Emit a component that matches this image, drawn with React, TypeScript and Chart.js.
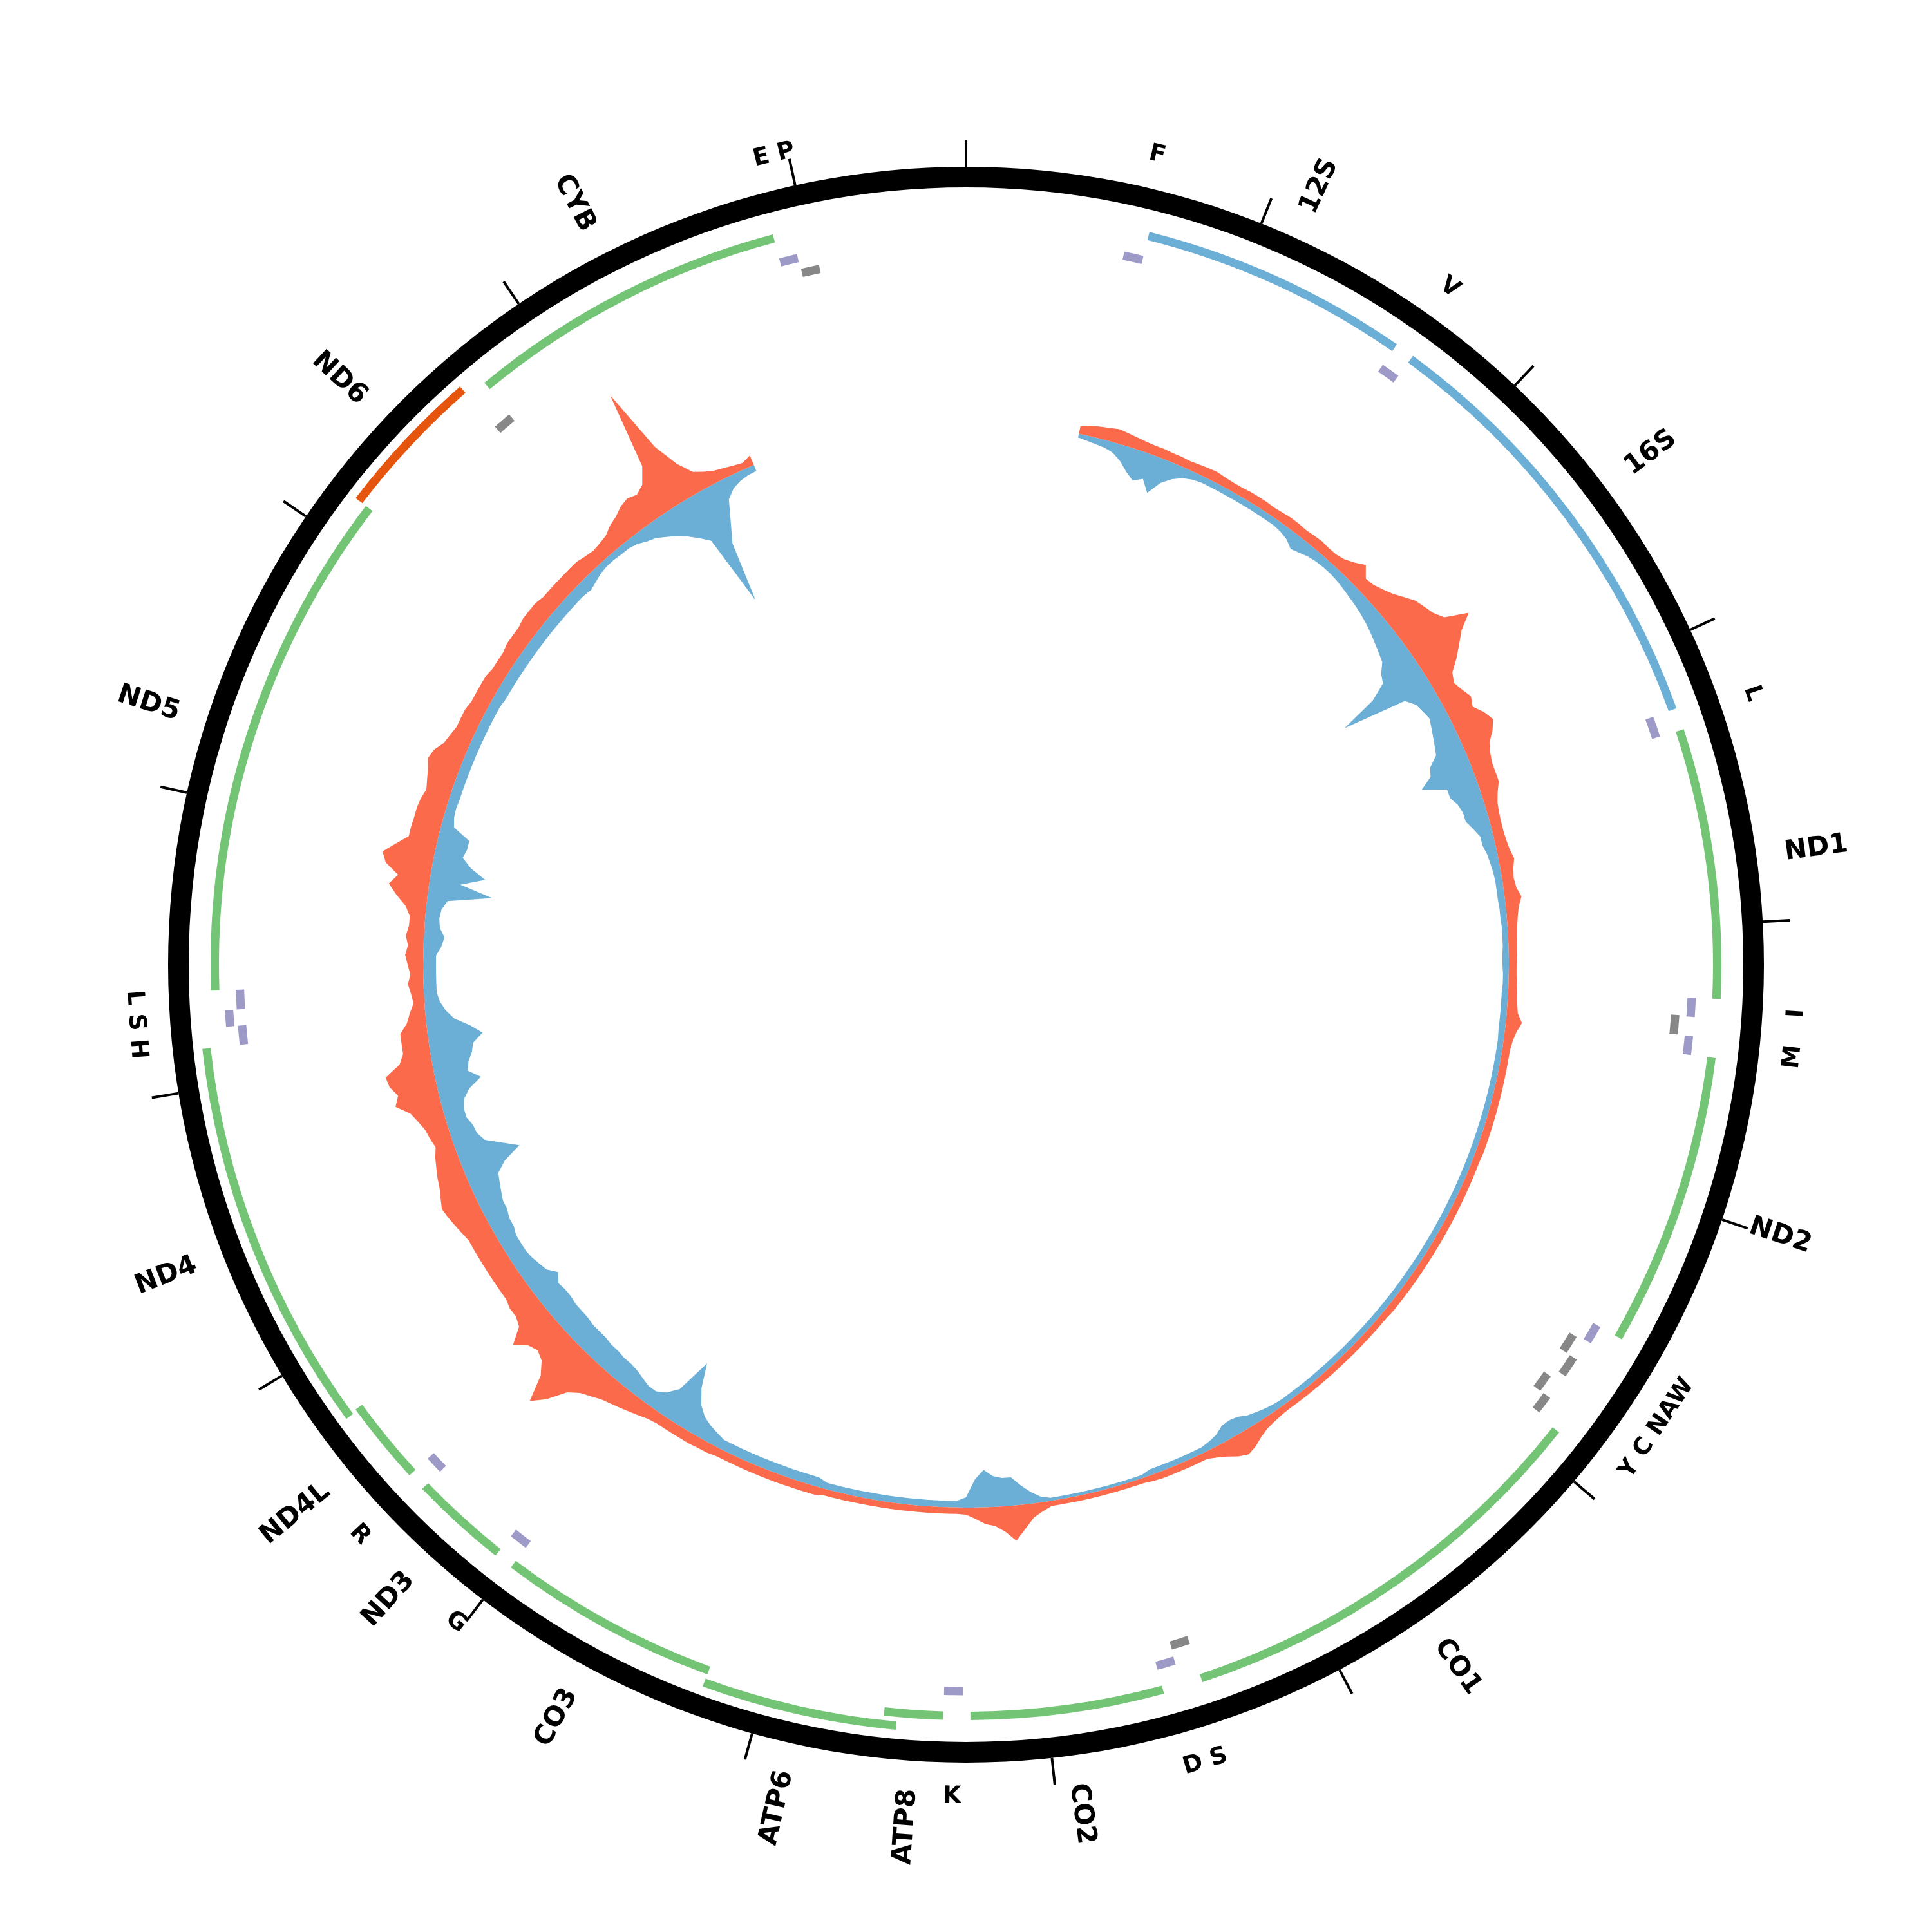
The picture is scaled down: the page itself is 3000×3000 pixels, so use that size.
import React, { useEffect, useRef } from 'react';
import { Chart, registerables } from 'chart.js';

Chart.register(...registerables);

// ---------------- data ----------------
const GENOME_LENGTH = 16569;
const TICK_STEP = 1000;

const geneNames = ['12S', '16S', 'ND1', 'ND2', 'CO1', 'CO2', 'ATP8', 'ATP6', 'CO3', 'ND3', 'ND4L', 'ND4', 'ND5', 'ND6', 'CYB'];
const geneStarts = [648, 1671, 3307, 4470, 5904, 7586, 8366, 8527, 9207, 10059, 10470, 10760, 12337, 14149, 14747];
const geneEnds = [1601, 3229, 4262, 5511, 7445, 8269, 8572, 9207, 9990, 10404, 10766, 12137, 14148, 14673, 15887];
const geneTypes = ['rRNA', 'rRNA', 'CDS', 'CDS', 'CDS', 'CDS', 'CDS', 'CDS', 'CDS', 'CDS', 'CDS', 'CDS', 'CDS', 'CDS', 'CDS'];
const geneStrands = [1, 1, 1, 1, 1, 1, 1, 1, 1, 1, 1, 1, 1, -1, 1];

const trnaNames = ['F', 'V', 'L', 'I', 'Q', 'M', 'W', 'A', 'N', 'C', 'Y', 'S', 'D', 'K', 'G', 'R', 'H', 'S', 'L', 'E', 'T', 'P'];
const trnaStarts = [577, 1602, 3230, 4263, 4329, 4402, 5512, 5587, 5657, 5761, 5826, 7446, 7518, 8295, 9991, 10405, 12138, 12207, 12266, 14674, 15888, 15956];
const trnaEnds = [647, 1670, 3304, 4331, 4400, 4469, 5579, 5655, 5729, 5826, 5891, 7514, 7585, 8364, 10058, 10469, 12206, 12265, 12336, 14742, 15953, 16023];
const trnaStrands = [1, 1, 1, 1, -1, 1, 1, -1, -1, -1, -1, -1, 1, 1, 1, 1, 1, 1, 1, -1, 1, -1];

const trnaLabelTexts = ['F', 'V', 'L', 'I', 'M', 'Y C NAW', 'D S', 'K', 'G', 'R', 'L S H', 'E P'];
const trnaLabelStarts = [577, 1602, 3230, 4263, 4402, 5512, 7446, 8295, 9991, 10405, 12138, 15888];
const trnaLabelEnds = [647, 1670, 3304, 4331, 4469, 5891, 7585, 8364, 10058, 10469, 12336, 16023];

// coverage, one value per degree bin starting at bin 12 (outward = forward, inward = reverse)
const COVERAGE_BINS = 360;
const COVERAGE_FIRST_BIN = 12;
const forwardCoverage = [
  12, 16, 18, 20, 22, 20, 18, 16, 15, 15,
  14, 14, 13, 14, 15, 16, 14, 13, 13, 14,
  14, 14, 13, 14, 15, 15, 14, 15, 16, 15,
  15, 18, 25, 35, 20, 22, 28, 35, 45, 55,
  60, 65, 75, 110, 85, 70, 55, 38, 32, 38,
  45, 40, 52, 60, 52, 40, 35, 32, 32, 32,
  25, 20, 18, 17, 17, 18, 20, 24, 20, 18,
  20, 26, 20, 17, 15, 14, 13, 13, 12, 12,
  13, 14, 15, 17, 25, 18, 14, 12, 12, 12,
  12, 12, 12, 12, 12, 12, 12, 12, 12, 11,
  11, 11, 11, 11, 11, 11, 11, 11, 11, 11,
  11, 11, 11, 11, 11, 11, 11, 11, 10, 10,
  10, 10, 10, 10, 10, 10, 10, 10, 10, 10,
  10, 10, 10, 11, 13, 16, 22, 30, 35, 30,
  22, 16, 11, 11, 11, 11, 11, 11, 10, 8,
  8, 8, 8, 8, 8, 8, 8, 8, 8, 8,
  14, 22, 38, 55, 40, 30, 26, 18, 11, 10,
  10, 10, 10, 10, 10, 10, 10, 10, 10, 10,
  10, 10, 10, 10, 13, 13, 13, 13, 13, 13,
  13, 13, 13, 13, 13, 13, 15, 15, 16, 16,
  16, 16, 16, 18, 22, 26, 30, 34, 38, 45,
  52, 65, 95, 115, 75, 58, 52, 58, 75, 50,
  44, 44, 40, 40, 40, 40, 40, 40, 40, 40,
  44, 48, 52, 55, 50, 45, 42, 38, 34, 28,
  32, 35, 42, 50, 70, 62, 72, 75, 50, 42,
  42, 42, 30, 24, 17, 20, 24, 20, 24, 28,
  24, 28, 24, 24, 32, 48, 62, 50, 72, 80,
  62, 45, 45, 44, 44, 42, 38, 42, 46, 52,
  48, 38, 34, 30, 30, 30, 27, 27, 27, 27,
  24, 24, 24, 27, 27, 27, 30, 30, 30, 27,
  27, 27, 27, 27, 27, 24, 22, 24, 27, 35,
  40, 48, 52, 48, 56, 80, 200, 95, 55, 32,
  24, 18, 15, 12, 10, 16,
];
const reverseCoverage = [
  6, 8, 10, 12, 16, 25, 38, 48, 40, 58,
  36, 24, 16, 12, 10, 10, 10, 10, 10, 10,
  10, 10, 10, 10, 12, 16, 24, 20, 16, 14,
  13, 13, 14, 16, 18, 20, 22, 25, 28, 32,
  36, 40, 44, 56, 62, 90, 150, 48, 36, 32,
  28, 32, 36, 40, 44, 60, 65, 85, 48, 48,
  40, 36, 36, 28, 20, 20, 16, 14, 12, 11,
  11, 11, 10, 10, 9, 9, 9, 10, 10, 9,
  9, 10, 10, 10, 10, 10, 9, 9, 9, 9,
  9, 9, 9, 9, 9, 9, 9, 9, 9, 9,
  9, 9, 9, 9, 9, 9, 9, 9, 9, 9,
  9, 9, 9, 9, 9, 9, 9, 9, 9, 9,
  9, 9, 9, 9, 9, 9, 9, 9, 9, 9,
  9, 9, 9, 10, 12, 15, 18, 24, 26, 24,
  16, 12, 9, 9, 9, 9, 9, 9, 9, 5,
  5, 5, 5, 5, 5, 5, 5, 5, 5, 5,
  9, 18, 30, 44, 44, 48, 58, 44, 16, 10,
  10, 10, 10, 10, 10, 10, 10, 10, 10, 10,
  10, 10, 10, 10, 15, 15, 15, 15, 15, 15,
  15, 15, 15, 15, 15, 15, 20, 25, 32, 45,
  68, 105, 48, 32, 24, 24, 28, 32, 34, 34,
  36, 36, 38, 38, 38, 40, 40, 40, 42, 42,
  40, 50, 38, 34, 30, 28, 28, 28, 32, 32,
  36, 36, 40, 44, 48, 65, 95, 72, 48, 40,
  38, 32, 32, 36, 48, 70, 52, 56, 64, 68,
  85, 68, 44, 32, 24, 20, 20, 20, 20, 20,
  28, 32, 24, 22, 24, 32, 100, 48, 85, 60,
  44, 48, 48, 20, 16, 15, 16, 16, 16, 16,
  16, 16, 16, 16, 16, 16, 16, 16, 18, 18,
  18, 18, 18, 18, 18, 18, 18, 18, 18, 18,
  18, 18, 18, 20, 16, 12, 10, 10, 11, 11,
  14, 20, 24, 32, 40, 50, 62, 75, 190, 95,
  65, 32, 20, 14, 11, 10,
];

// ---------------- layout & style ----------------
const CENTER_X = 1500;
const CENTER_Y = 1498;
const R_TICK_OUT = 1281;
const R_LABEL_RADIAL = 1283;
const R_LABEL_TANGENTIAL = 1292;
const BASELINE_R = 843;
const TICK_HALF_BP = 4.2;
const STACK_GAP_BP = 2;

const TRANSPARENT = 'rgba(0,0,0,0)';
const COLOR_CDS_PLUS = '#74c476';
const COLOR_CDS_MINUS = '#e6550d';
const COLOR_RRNA = '#6baed6';
const COLOR_TRNA_PLUS = '#9e9ac8';
const COLOR_TRNA_MINUS = '#878787';
const COLOR_FWD = '#fb6a4a';
const COLOR_REV = '#6baed6';
const GENE_FONT = 'bold 42px "DejaVu Sans"';
const TRNA_FONT = 'bold 37px "DejaVu Sans"';

// ---------------- helpers ----------------
function assignLevels(starts: number[], ends: number[]) {
  const levelEnds: number[] = [];
  return starts.map((s, i) => {
    let lv = levelEnds.findIndex((e) => s > e + STACK_GAP_BP);
    if (lv < 0) {
      lv = levelEnds.length;
      levelEnds.push(ends[i]);
    } else {
      levelEnds[lv] = ends[i];
    }
    return lv;
  });
}

function buildRing(starts: number[], ends: number[], colors: string[], texts: string[]) {
  const data: number[] = [];
  const bg: string[] = [];
  const labels: string[] = [];
  let cursor = 0;
  starts.forEach((st, i) => {
    const s = st - 1;
    const e = ends[i];
    if (s > cursor) {
      data.push(s - cursor);
      bg.push(TRANSPARENT);
      labels.push('');
    }
    data.push(e - Math.max(s, cursor));
    bg.push(colors[i]);
    labels.push(texts[i]);
    cursor = e;
  });
  if (cursor < GENOME_LENGTH) {
    data.push(GENOME_LENGTH - cursor);
    bg.push(TRANSPARENT);
    labels.push('');
  }
  return { data, bg, labels };
}

function ringDataset(ring: { data: number[]; bg: string[]; labels: string[] }, weight: number, labelMode?: string) {
  return {
    data: ring.data,
    backgroundColor: ring.bg,
    borderWidth: 0,
    weight,
    segmentLabels: labelMode ? ring.labels : undefined,
    labelMode,
  };
}

function spacer(weight: number) {
  return { data: [GENOME_LENGTH], backgroundColor: [TRANSPARENT], borderWidth: 0, weight };
}

function geneColor(i: number) {
  if (geneTypes[i] === 'rRNA') return COLOR_RRNA;
  return geneStrands[i] > 0 ? COLOR_CDS_PLUS : COLOR_CDS_MINUS;
}

function pick<T>(arr: T[], idx: number[]) {
  return idx.map((i) => arr[i]);
}

function levelRing(
  idx: number[],
  levels: number[],
  level: number,
  starts: number[],
  ends: number[],
  colorFn: (i: number) => string,
  texts: string[],
) {
  const sel = idx.filter((i) => levels[idx.indexOf(i)] === level);
  return buildRing(pick(starts, sel), pick(ends, sel), sel.map(colorFn), pick(texts, sel));
}

const circularLabelPlugin = {
  id: 'circularLabels',
  afterDatasetsDraw(chart: any) {
    const ctx = chart.ctx;
    chart.data.datasets.forEach((ds: any, di: number) => {
      if (!ds.segmentLabels) return;
      const meta = chart.getDatasetMeta(di);
      meta.data.forEach((arc: any, i: number) => {
        const text = ds.segmentLabels[i];
        if (!text) return;
        const { x, y, startAngle, endAngle } = arc.getProps(['x', 'y', 'startAngle', 'endAngle'], true);
        const a = (startAngle + endAngle) / 2;
        let theta = (a + Math.PI / 2) % (2 * Math.PI);
        if (theta < 0) theta += 2 * Math.PI;
        ctx.save();
        ctx.fillStyle = '#000';
        ctx.textBaseline = 'middle';
        if (ds.labelMode === 'radial') {
          ctx.translate(x + R_LABEL_RADIAL * Math.cos(a), y + R_LABEL_RADIAL * Math.sin(a));
          const flip = theta > Math.PI;
          ctx.rotate(flip ? a + Math.PI : a);
          ctx.textAlign = flip ? 'right' : 'left';
          ctx.font = GENE_FONT;
        } else {
          ctx.translate(x + R_LABEL_TANGENTIAL * Math.cos(a), y + R_LABEL_TANGENTIAL * Math.sin(a));
          const flip = theta > Math.PI / 2 && theta < (3 * Math.PI) / 2;
          ctx.rotate(flip ? a - Math.PI / 2 : a + Math.PI / 2);
          ctx.textAlign = 'center';
          ctx.font = TRNA_FONT;
        }
        ctx.fillText(text, 0, 0);
        ctx.restore();
      });
    });
  },
};

function tickRing() {
  const data: number[] = [];
  const bg: string[] = [];
  let cursor = 0;
  for (let pos = 0; pos < GENOME_LENGTH; pos += TICK_STEP) {
    const s = Math.max(pos - TICK_HALF_BP, 0);
    if (s > cursor) {
      data.push(s - cursor);
      bg.push(TRANSPARENT);
    }
    data.push(pos + TICK_HALF_BP - s);
    bg.push('#000');
    cursor = pos + TICK_HALF_BP;
  }
  data.push(GENOME_LENGTH - TICK_HALF_BP - cursor);
  bg.push(TRANSPARENT);
  data.push(TICK_HALF_BP);
  bg.push('#000');
  return { data, bg, labels: [] as string[] };
}

function baseOptions() {
  return {
    animation: false as const,
    responsive: false,
    maintainAspectRatio: false,
    events: [] as any[],
    plugins: { legend: { display: false }, tooltip: { enabled: false } },
  };
}

// ---------------- chart configs ----------------
function outerConfig(): any {
  const gIdx = geneNames.map((_, i) => i);
  const gLevels = assignLevels(geneStarts, geneEnds);
  const geneL1 = levelRing(gIdx, gLevels, 0, geneStarts, geneEnds, geneColor, geneNames);
  const geneL2 = levelRing(gIdx, gLevels, 1, geneStarts, geneEnds, geneColor, geneNames);

  const pIdx = trnaNames.map((_, i) => i).filter((i) => trnaStrands[i] > 0);
  const pLevels = assignLevels(pick(trnaStarts, pIdx), pick(trnaEnds, pIdx));
  const pL1 = levelRing(pIdx, pLevels, 0, trnaStarts, trnaEnds, () => COLOR_TRNA_PLUS, trnaNames);
  const pL2 = levelRing(pIdx, pLevels, 1, trnaStarts, trnaEnds, () => COLOR_TRNA_PLUS, trnaNames);

  const labelRing = buildRing(trnaLabelStarts, trnaLabelEnds, trnaLabelTexts.map(() => TRANSPARENT), trnaLabelTexts);

  const rings = [
    ringDataset(labelRing, 0, 'tangential'),
    ringDataset(tickRing(), 42),
    { data: [GENOME_LENGTH], backgroundColor: ['#000'], borderWidth: 0, weight: 32 },
    spacer(14),
    ringDataset(geneL2, 13, 'radial'),
    spacer(7),
    ringDataset(geneL1, 13, 'radial'),
    spacer(7),
    ringDataset(pL2, 13),
    spacer(5.5),
    ringDataset(pL1, 13),
  ];
  const totalWeight = rings.reduce((s, r: any) => s + r.weight, 0);
  const inner = R_TICK_OUT - totalWeight;
  return {
    type: 'doughnut',
    data: { datasets: rings },
    options: {
      ...baseOptions(),
      radius: R_TICK_OUT,
      cutout: `${(inner / R_TICK_OUT) * 100}%`,
      rotation: 0,
      circumference: 360,
      elements: { arc: { borderWidth: 0 } },
    },
    plugins: [circularLabelPlugin],
  };
}

const GREY_OUT = 1129.5;
function greyConfig(): any {
  const mIdx = trnaNames.map((_, i) => i).filter((i) => trnaStrands[i] < 0);
  const mLevels = assignLevels(pick(trnaStarts, mIdx), pick(trnaEnds, mIdx));
  const mL1 = levelRing(mIdx, mLevels, 0, trnaStarts, trnaEnds, () => COLOR_TRNA_MINUS, trnaNames);
  const mL2 = levelRing(mIdx, mLevels, 1, trnaStarts, trnaEnds, () => COLOR_TRNA_MINUS, trnaNames);
  const rings = [ringDataset(mL2, 13), spacer(6), ringDataset(mL1, 13)];
  const totalWeight = rings.reduce((s, r: any) => s + r.weight, 0);
  return {
    type: 'doughnut',
    data: { datasets: rings },
    options: {
      ...baseOptions(),
      radius: GREY_OUT,
      cutout: `${((GREY_OUT - totalWeight) / GREY_OUT) * 100}%`,
      rotation: 0,
      circumference: 360,
      elements: { arc: { borderWidth: 0 } },
    },
  };
}

const COVERAGE_CANVAS = 2200;
function coverageConfig(): any {
  const binLabels = Array.from({ length: COVERAGE_BINS }, (_, i) => String(Math.round((i * GENOME_LENGTH) / COVERAGE_BINS)));
  const fwd: (number | null)[] = Array(COVERAGE_BINS).fill(null);
  const rev: (number | null)[] = Array(COVERAGE_BINS).fill(null);
  forwardCoverage.forEach((v, k) => (fwd[COVERAGE_FIRST_BIN + k] = v));
  reverseCoverage.forEach((v, k) => (rev[COVERAGE_FIRST_BIN + k] = -v));
  const half = COVERAGE_CANVAS / 2;
  return {
    type: 'radar',
    data: {
      labels: binLabels,
      datasets: [
        { data: fwd, fill: 'origin', backgroundColor: COLOR_FWD, borderWidth: 0, pointRadius: 0, spanGaps: false },
        { data: rev, fill: 'origin', backgroundColor: COLOR_REV, borderWidth: 0, pointRadius: 0, spanGaps: false },
      ],
    },
    options: {
      ...baseOptions(),
      elements: { point: { radius: 0 }, line: { borderWidth: 0, tension: 0 } },
      scales: {
        r: {
          min: -BASELINE_R,
          max: half - BASELINE_R,
          startAngle: 0,
          ticks: { display: false },
          grid: { display: false, circular: true },
          angleLines: { display: false },
          pointLabels: { display: false },
        },
      },
    },
  };
}

const OUTER_CANVAS = 2996;
const GREY_CANVAS = 2280;

export default function App() {
  const outerRef = useRef<HTMLCanvasElement>(null);
  const greyRef = useRef<HTMLCanvasElement>(null);
  const covRef = useRef<HTMLCanvasElement>(null);

  useEffect(() => {
    const charts = [
      new Chart(covRef.current as HTMLCanvasElement, coverageConfig()),
      new Chart(greyRef.current as HTMLCanvasElement, greyConfig()),
      new Chart(outerRef.current as HTMLCanvasElement, outerConfig()),
    ];
    return () => charts.forEach((c) => c.destroy());
  }, []);

  const pos = (size: number) => ({
    position: 'absolute' as const,
    left: CENTER_X - size / 2,
    top: CENTER_Y - size / 2,
    width: size,
    height: size,
  });

  return (
    <div style={{ position: 'absolute', left: 0, top: 0, width: 3000, height: 3000, background: '#ffffff', overflow: 'hidden' }}>
      <canvas ref={covRef} width={COVERAGE_CANVAS} height={COVERAGE_CANVAS} style={pos(COVERAGE_CANVAS)} />
      <canvas ref={greyRef} width={GREY_CANVAS} height={GREY_CANVAS} style={pos(GREY_CANVAS)} />
      <canvas ref={outerRef} width={OUTER_CANVAS} height={OUTER_CANVAS} style={pos(OUTER_CANVAS)} />
    </div>
  );
}
